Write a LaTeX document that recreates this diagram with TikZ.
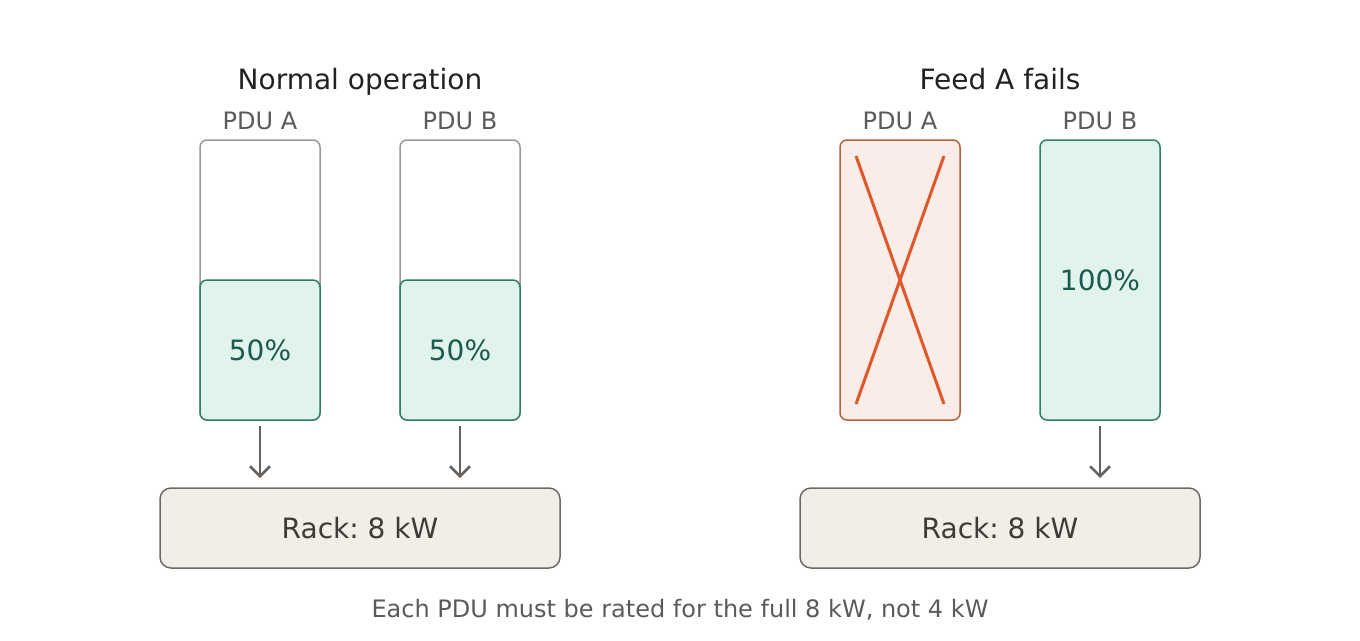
\documentclass[tikz,border=0pt]{standalone}
\usepackage{fontspec}
\setmainfont{DejaVu Sans}
\usetikzlibrary{arrows.meta}
\frenchspacing
\definecolor{titlec}{HTML}{222222}
\definecolor{labelc}{HTML}{5A5A5A}
\definecolor{framec}{HTML}{999999}
\definecolor{greenfill}{HTML}{E0F3EC}
\definecolor{greendraw}{HTML}{2E7D6B}
\definecolor{greentext}{HTML}{1B5A4C}
\definecolor{redfill}{HTML}{FAECE6}
\definecolor{reddraw}{HTML}{B5603F}
\definecolor{crossc}{HTML}{E0582A}
\definecolor{rackfill}{HTML}{F1EEE7}
\definecolor{rackdraw}{HTML}{706A65}
\definecolor{racktext}{HTML}{3D3A37}
\definecolor{arrowc}{HTML}{666260}
\tikzset{
  x=1pt, y=-1pt,
  title/.style={font=\fontsize{28}{32}\selectfont, text=titlec, anchor=base, inner sep=0pt},
  pdulabel/.style={font=\fontsize{24}{28}\selectfont, text=labelc, anchor=base, inner sep=0pt},
  emptybox/.style={draw=framec, line width=1.5pt, fill=white, rounded corners=7pt},
  loadbox/.style={draw=greendraw, line width=1.5pt, fill=greenfill, rounded corners=7pt,
    text=greentext, font=\fontsize{28}{32}\selectfont},
  failbox/.style={draw=reddraw, line width=1.5pt, fill=redfill, rounded corners=7pt},
  crossline/.style={draw=crossc, line width=3pt},
  rackbox/.style={draw=rackdraw, line width=1.5pt, fill=rackfill, rounded corners=11pt,
    text=racktext, font=\fontsize{28}{32}\selectfont},
  feed/.style={draw=arrowc, line width=2.5pt, -{Straight Barb[length=10pt,width=20pt,line width=2.5pt]}},
  note/.style={font=\fontsize{24}{28}\selectfont, text=labelc, anchor=base, inner sep=0pt}
}
\begin{document}
\begin{tikzpicture}
\useasboundingbox (0,0) rectangle (1360,640);
% ---------- Normal operation ----------
\node[title] (t1) at (360,89) {Normal operation};
\node[pdulabel] (la1) at (260,129) {PDU A};
\node[pdulabel] (lb1) at (460,129) {PDU B};
\draw[emptybox] (200,140) rectangle (320,420);
\draw[emptybox] (400,140) rectangle (520,420);
\node[loadbox, minimum width=120pt, minimum height=140pt, inner sep=0pt] (a1) at (260,350) {50\%};
\node[loadbox, minimum width=120pt, minimum height=140pt, inner sep=0pt] (b1) at (460,350) {50\%};
\node[rackbox, minimum width=400pt, minimum height=80pt, inner sep=0pt] (r1) at (360,528) {Rack: 8 kW};
\coordinate (a1e) at (260,478);
\coordinate (b1e) at (460,478);
\draw[feed] ([yshift=-5pt]a1.south) -- (a1e);
\draw[feed] ([yshift=-5pt]b1.south) -- (b1e);
% ---------- Feed A fails ----------
\node[title] (t2) at (1000,89) {Feed A fails};
\node[pdulabel] (la2) at (900,129) {PDU A};
\node[pdulabel] (lb2) at (1100,129) {PDU B};
\node[failbox, minimum width=120pt, minimum height=280pt, inner sep=0pt] (a2) at (900,280) {};
\draw[crossline] (856,156) -- (944,404);
\draw[crossline] (944,156) -- (856,404);
\node[loadbox, minimum width=120pt, minimum height=280pt, inner sep=0pt] (b2) at (1100,280) {100\%};
\node[rackbox, minimum width=400pt, minimum height=80pt, inner sep=0pt] (r2) at (1000,528) {Rack: 8 kW};
\coordinate (b2e) at (1100,478);
\draw[feed] ([yshift=-5pt]b2.south) -- (b2e);
% ---------- note ----------
\node[note] (n) at (680,617) {Each PDU must be rated for the full 8 kW, not 4 kW};
\end{tikzpicture}
\end{document}
